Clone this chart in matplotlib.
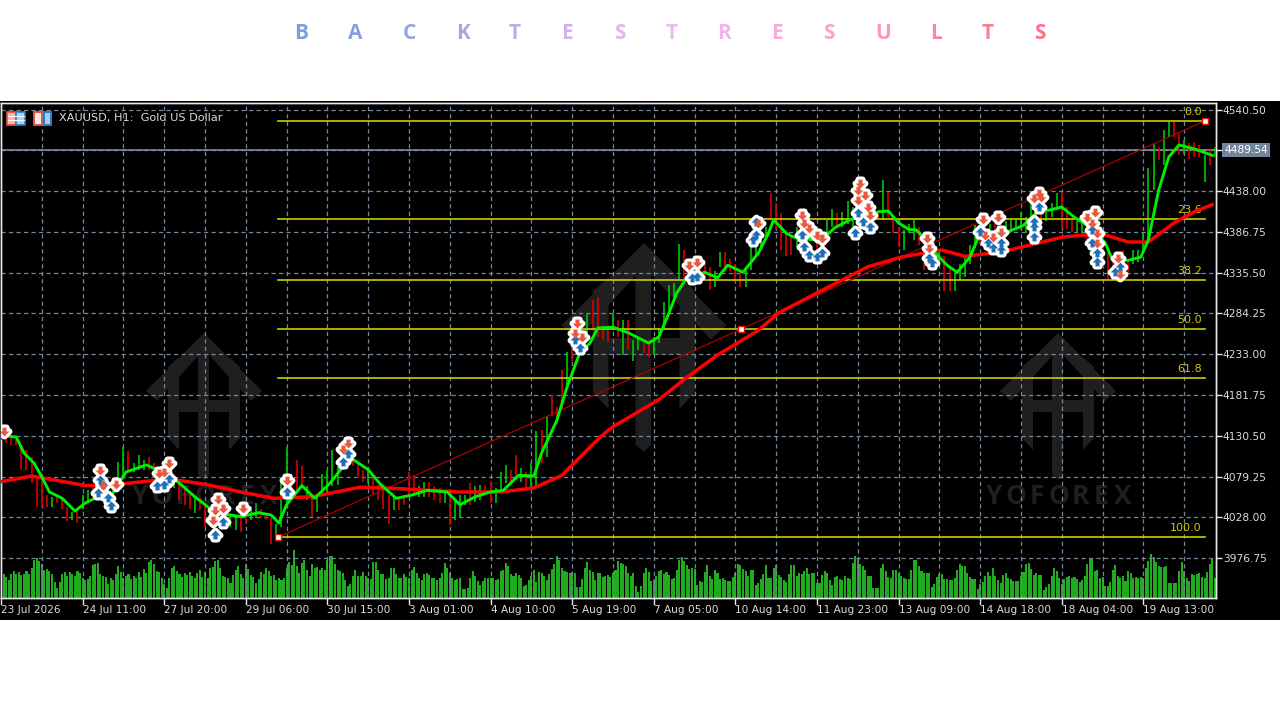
import numpy as np
from matplotlib import pyplot as plt
from matplotlib.path import Path
from matplotlib.patches import Polygon, Rectangle

title_letters = list("BACKTESTRESULTS")
title_colors = ['#7f9fdc', '#84a0dc', '#93a5df', '#a3a8e2', '#bdaee6', '#d2b2ea', '#e2b6ee', '#ebbcf0',
                '#f0b4e8', '#f8aadc', '#fca4cc', '#fd96b8', '#fe84a4', '#fe7c94', '#fe6f88']

price_ticks = [4540.50, 4489.25, 4438.00, 4386.75, 4335.50, 4284.25, 4233.00, 4181.75, 4130.50, 4079.25, 4028.00, 3976.75]
date_labels = ['23 Jul 2026', '24 Jul 11:00', '27 Jul 20:00', '29 Jul 06:00', '30 Jul 15:00', '3 Aug 01:00',
               '4 Aug 10:00', '5 Aug 19:00', '7 Aug 05:00', '10 Aug 14:00', '11 Aug 23:00', '13 Aug 09:00',
               '14 Aug 18:00', '18 Aug 04:00', '19 Aug 13:00']
last_price = 4489.54

fib_levels = ['0.0', '23.6', '38.2', '50.0', '61.8', '100.0']
fib_prices = [4526, 4402.6, 4326, 4264.5, 4203, 4003]
fib_start = 108.5
fib_end = 472

# one candle every second bar
candle_high = [4138,4134,4132,4129,4117,4113,4104,4079,4075,4056,4054,4056,4054,4041,4035,4039,4056,4062,4069,4062,
               4071,4071,4079,4098,4117,4111,4096,4106,4100,4104,4096,4088,4092,4088,4079,4075,4065,4058,4054,4052,
               4046,4041,4033,4033,4033,4031,4031,4031,4031,4041,4046,4039,4033,4029,4020,4079,4117,4071,4100,4092,
               4067,4056,4054,4083,4088,4113,4092,4113,4117,4109,4096,4088,4088,4083,4069,4067,4056,4054,4054,
               4056,4085,4081,4067,4073,4073,4067,4065,4062,4062,4050,4056,4056,4071,4067,4069,4067,4073,4065,4085,
               4094,4088,4106,4090,4085,4096,4136,4138,4155,
               4182,4167,4213,4236,4255,4263,4263,4284,4301,4305,4270,4266,4284,4276,4276,4276,4251,4255,4251,4251,
               4255,4266,4299,4320,4322,4372,4364,4351,4347,4347,4347,4343,4337,4362,4362,4353,4347,4339,4343,4368,
               4377,4385,4393,
               4435,4423,4410,4385,4381,4393,4381,4372,4368,4381,4385,4402,4416,4410,4412,4425,4418,4423,4418,4418,
               4414,4412,4452,4437,4406,4393,4389,4397,4402,4393,4385,4360,4364,4364,4356,4343,4335,
               4347,4356,4370,4395,4393,4397,4397,4406,4410,4400,4402,4402,4412,4406,4431,4437,4423,4416,4423,4435,
               4437,4418,4402,4400,4402,4406,4397,4385,4376,4360,4356,4343,4364,4351,4364,4364,4385,4467,4498,4494,
               4515,4525,4525,4511,4502,4498,4500,4496,4483,4490,4494]
candle_low = [4125,4121,4119,4119,4088,4088,4071,4041,4041,4041,4041,4046,4039,4023,4025,4021,4039,4046,4050,4050,
              4050,4054,4056,4079,4079,4088,4085,4088,4088,4088,4077,4071,4065,4073,4065,4050,4044,4039,4033,4037,
              4016,4020,4016,4020,4020,4016,4012,4010,4020,4025,4027,4029,4025,3995,4006,4016,4041,4050,4062,4065,
              4050,4029,4035,4058,4060,4067,4069,4088,4096,4092,4077,4073,4071,4056,4050,4039,4020,4037,4037,
              4044,4054,4056,4054,4054,4054,4050,4046,4046,4018,4025,4029,4044,4044,4048,4050,4056,4046,4046,4060,
              4071,4071,4075,4073,4065,4065,4067,4096,4104,
              4155,4146,4163,4192,4224,4234,4238,4259,4263,4255,4251,4249,4263,4255,4232,4238,4224,4238,4234,4230,
              4232,4247,4263,4289,4305,4326,4326,4328,4335,4328,4328,4314,4318,4343,4343,4337,4324,4318,4318,4339,
              4356,4368,4377,
              4402,4389,4364,4356,4358,4368,4364,4356,4351,4353,4356,4381,4393,4395,4393,4397,4393,4393,4402,4402,
              4404,4402,4402,4406,4385,4368,4364,4385,4376,4370,4339,4343,4351,4351,4312,4312,4312,
              4326,4330,4347,4366,4372,4372,4368,4368,4376,4387,4387,4389,4389,4385,4385,4400,4400,4400,4406,4414,
              4391,4391,4387,4387,4385,4376,4364,4351,4343,4328,4326,4324,4339,4335,4347,4349,4360,4372,4439,4477,
              4471,4506,4506,4483,4485,4478,4481,4481,4450,4471,4481]
candle_dir = ("rrrrrrrrrr" "grrrgrggrg" "rgrggrgggr" "rgrrgrrrgr" "rrgrrggrrg" "grrrgggrrr" "grgggggrgr" "rrgrrrrgr"
              "rrrggrrrgrgggrggrrgggrrgrggrg"
              "rrrgrrggrrrrgrgrggrrggggggrrgrrrggrrrrggggg"
              "rrrrrggrgrgggrgggrgrgrgrrrgggrrgrgrrg"
              "ggggrrgrrggggggrrgggrrrggrrrrrrgrrgggggrggrrgrrrgrg")

fast_bar = [0,3,6,9,13,16,19,24,29,33,38,43,49,57,61,66,70,76,84,94,101,106,109,112,118,123,129,134,138,144,149,155,161,
            167,175,180,186,192,197,203,209,212,218,222,227,231,234,240,246,254,258,262,265,269,276,281,285,291,297,301,
            303,308,311,318,323,327,333,344,348,352,356,359,362,367,371,375,380,384,395,401,407,411,416,421,426,433,436,
            442,447,450,454,458,462,468,475]
fast_ma = [4133,4130,4129,4109,4096,4079,4060,4052,4036,4046,4054,4054,4085,4094,4088,4081,4071,4054,4034,4029,4034,4031,
           4021,4044,4068,4052,4071,4091,4101,4088,4069,4052,4056,4062,4060,4044,4054,4060,4062,4081,4080,4109,4150,4192,
           4235,4247,4266,4267,4260,4247,4255,4285,4310,4329,4336,4329,4345,4336,4360,4385,4402,4385,4380,4377,4380,4392,
           4402,4412,4413,4398,4390,4389,4379,4358,4345,4336,4355,4385,4387,4395,4414,4414,4418,4405,4395,4373,4351,4351,
           4355,4377,4439,4481,4496,4491,4483]
slow_bar = [0,12,21,33,44,59,69,81,94,107,122,141,157,179,196,209,220,235,240,258,269,281,297,305,320,340,353,369,378,
            393,416,425,433,442,450,460,468,475]
slow_ma = [4073,4080,4075,4068,4069,4074,4075,4069,4060,4052,4054,4066,4064,4060,4060,4065,4081,4129,4142,4176,4204,4232,
           4263,4285,4310,4343,4355,4364,4356,4362,4380,4383,4383,4374,4374,4398,4412,4421]

volume = [17,24,21,18,24,27,24,26,23,24,27,24,30,38,40,37,34,28,29,27,24,16,10,16,24,26,22,26,24,22,27,25,
          20,18,19,22,33,34,35,24,22,21,14,20,18,24,32,26,20,22,24,19,22,20,26,21,29,25,36,38,34,27,26,20,
          14,10,20,30,32,27,24,21,25,23,26,22,20,25,28,21,26,20,30,31,37,38,30,22,21,20,15,23,28,32,24,20,
          34,29,23,21,15,19,26,24,30,27,22,23,18,20,18,20,30,36,33,48,32,25,35,38,28,22,34,30,31,28,30,28,
          38,42,42,34,28,27,25,18,12,14,22,28,22,22,26,22,20,19,36,36,28,24,24,19,20,30,30,24,20,20,24,21,
          20,28,31,25,20,18,24,25,23,20,20,18,20,25,35,30,25,20,18,19,20,9,9,10,20,27,22,17,13,17,20,20,
          20,20,18,19,27,28,35,32,24,22,25,23,20,12,13,18,22,28,16,26,25,22,18,24,29,34,42,38,30,27,26,25,
          26,25,11,11,19,30,36,28,26,18,25,25,21,22,23,21,25,28,37,35,34,32,25,22,25,12,6,12,25,30,26,17,
          18,22,27,28,24,26,23,19,20,28,38,41,37,33,29,30,29,13,17,16,26,33,22,19,28,25,19,20,18,17,17,21,
          25,34,33,29,27,22,28,28,13,15,19,24,33,20,20,30,33,23,21,18,16,24,33,33,22,25,24,27,30,24,25,25,
          15,15,23,27,25,18,13,21,22,19,18,22,20,19,35,42,39,34,32,28,22,22,10,10,10,30,34,27,21,20,28,28,
          25,22,20,19,19,28,38,38,32,27,25,25,25,11,14,21,24,24,19,19,18,18,20,28,34,32,32,25,21,19,19,9,
          14,16,22,26,22,30,22,18,15,23,25,20,19,17,17,17,22,26,34,35,29,23,25,23,23,8,11,14,22,30,27,20,
          14,19,21,22,20,21,19,16,18,22,34,39,39,27,28,20,21,12,12,16,28,33,22,20,22,17,27,25,20,21,20,21,
          20,30,37,44,41,36,32,31,31,32,15,15,15,15,27,36,27,20,17,24,23,24,25,21,20,26,34,39,20]

sell_bar = [1,39,40,45,66,62,64,85,87,84,83,95,112,136,134,226,228,225,273,270,297,314,317,322,320,315,337,336,339,340,
            341,336,363,364,385,391,386,389,392,407,405,408,429,428,430,430,426,438,439]
sell_price = [4137,4088,4069,4070,4096,4084,4085,4051,4040,4037,4025,4040,4075,4122,4114,4272,4255,4260,4349,4345,4398,
              4408,4392,4379,4383,4398,4448,4439,4433,4418,4408,4427,4379,4367,4403,4405,4383,4380,4387,4436,4429,4431,
              4412,4398,4385,4373,4405,4354,4334]
buy_bar = [38,40,42,43,39,66,64,61,87,84,112,136,134,227,225,273,271,296,295,296,315,317,322,320,314,335,341,336,338,
           365,364,384,387,389,392,392,407,405,405,405,428,428,430,430,439,437]
buy_price = [4059,4069,4052,4042,4075,4076,4069,4067,4022,4006,4060,4108,4098,4241,4251,4330,4329,4383,4377,4399,4368,
             4358,4360,4355,4383,4385,4393,4410,4399,4348,4354,4387,4373,4366,4364,4373,4418,4393,4380,4399,4389,4373,
             4360,4349,4343,4336]

GRID = '#76869a'
TEXT = '#dcdcdc'
RED = '#d80000'
GREEN = '#00c800'


def arrow(direction):
    pts = np.array([[-0.42, 0], [-1, 0], [0, 1], [1, 0], [0.42, 0], [0.42, -0.8], [-0.42, -0.8], [-0.42, 0]])
    pts = pts * [1, direction]
    return Path(pts, closed=True)


def logo(ax, cx, top, scale, word=False):
    # faint house watermark, in pixels of the background axes
    c = '#1f1f1f'
    def sx(x): return cx + x * scale
    def sy(y): return top + y * scale
    ax.add_patch(Polygon([(sx(a), sy(b)) for a, b in [(0, 0), (58, 58), (47, 68), (5, 22), (-5, 22), (-47, 68), (-58, 58)]], color=c, lw=0))
    ax.add_patch(Polygon([(sx(a), sy(b)) for a, b in [(-36, 34), (-25, 24), (-25, 117), (-36, 105)]], color=c, lw=0))
    ax.add_patch(Polygon([(sx(a), sy(b)) for a, b in [(36, 34), (25, 24), (25, 117), (36, 105)]], color=c, lw=0))
    ax.add_patch(Polygon([(sx(a), sy(b)) for a, b in [(-6, 10), (5, 10), (5, 142), (0, 147), (-6, 142)]], color=c, lw=0))
    ax.add_patch(Rectangle((sx(-30), sy(67)), 60 * scale, 12 * scale, color=c, lw=0))
    if word:
        for n, letter in enumerate('YOFOREX'):
            ax.text(cx - 64 + n * 21.5, top + 164, letter, color=c, fontsize=19, fontweight='bold', family='Open Sans',
                    ha='center', va='center')


fig = plt.figure(figsize=(12.8, 7.2), dpi=100, facecolor='white')

bg = fig.add_axes([0, 0, 1, 1], zorder=0)
bg.set_xlim(0, 1280)
bg.set_ylim(720, 0)
bg.axis('off')
bg.add_patch(Rectangle((0, 101), 1280, 519, color='black', lw=0))
logo(bg, 204, 333, 1, True)
logo(bg, 1058, 333, 1, True)
logo(bg, 644, 243, 1.42)

# title letters are spaced out by hand across the top
title_x = [301, 355, 409, 463, 515, 567, 620, 672, 724, 777, 829, 883, 936, 988, 1040]
for x, letter, col in zip(title_x, title_letters, title_colors):
    bg.text(x, 33.5, letter, color=col, fontsize=15, fontweight='bold', family='Open Sans', ha='center', va='center')

# the two small icons next to the symbol name
bg.add_patch(Rectangle((7, 112), 9, 12.5, fc='#ffb4a8', ec='#e8503c', lw=1.2))
bg.add_patch(Rectangle((16, 112), 9, 12.5, fc='#a8d0f4', ec='#2c7cc8', lw=1.2))
bg.plot([8, 24], [116, 116], color='white', lw=0.8)
bg.plot([8, 24], [120, 120], color='white', lw=0.8)
bg.add_patch(Rectangle((34, 112), 8, 12.5, fc='#ffe8e4', ec='#e8503c', lw=1.4))
bg.add_patch(Rectangle((44, 112), 7, 12.5, fc='#a0d0f4', ec='#2c7cc8', lw=1.4))
bg.text(59, 118.5, 'XAUUSD, H1:  Gold US Dollar', color=TEXT, fontsize=8.1, family='DejaVu Sans', va='center')

ax = fig.add_axes([1 / 1280, (720 - 598) / 720, 1215 / 1280, 495 / 720], zorder=1)
ax.set_xlim(0, 476.5)
ax.set_ylim(4678.1 - 1.2564 * 598, 4678.1 - 1.2564 * 103)

vol_ax = ax.twinx()
vol_ax.set_ylim(0, 495)
vol_ax.set_yticks([])
vol_ax.set_zorder(ax.get_zorder() - 1)
vol_ax.patch.set_visible(False)
ax.patch.set_visible(False)

for spine in list(ax.spines.values()) + list(vol_ax.spines.values()):
    spine.set_color('#e8e8e8')
    spine.set_linewidth(1)

ax.set_xticks(np.arange(16, 476, 16), minor=False)
ax.grid(True, color=GRID, lw=0.9, dashes=(3.4, 2.6))
ax.set_axisbelow(True)
ax.set_xticklabels([])
ax.tick_params(axis='x', length=0)
ax.yaxis.tick_right()
ax.set_yticks(price_ticks)
ax.set_yticklabels([f'{p:.2f}' if p != 4489.25 else '' for p in price_ticks], fontsize=7.7, color=TEXT, family='DejaVu Sans')
ax.tick_params(axis='y', length=4, width=1, color='#e8e8e8', pad=1)

# date labels sit right of their tick, every 32 bars
for i, label in enumerate(date_labels):
    ax.plot([i * 32, i * 32], [0, -0.012], color='#e8e8e8', lw=1, clip_on=False, transform=ax.get_xaxis_transform())
    ax.annotate(label, (i * 32, 0), xycoords=ax.get_xaxis_transform(), xytext=(0, -7), textcoords='offset pixels',
                va='top', ha='left', fontsize=7.6, color=TEXT, family='DejaVu Sans', annotation_clip=False)

vol_ax.bar(np.arange(len(volume)), volume, width=0.8, color='#22aa22', lw=0)

for b, (hi, lo, d) in enumerate(zip(candle_high, candle_low, candle_dir)):
    ax.plot([b * 2, b * 2], [lo, hi], color=GREEN if d == 'g' else RED, lw=1.2, solid_capstyle='butt', zorder=3)

ax.axhline(last_price, color='#8497ab', lw=1.1, zorder=2)

for lvl, p in zip(fib_levels, fib_prices):
    ax.plot([fib_start, fib_end], [p, p], color='#cccc00', lw=1.2, zorder=4)
    ax.annotate(lvl, (fib_end, p), xytext=(-2, 3), textcoords='offset points', ha='right', va='bottom',
                fontsize=8, color='#d8c800', family='DejaVu Sans', zorder=4)

ax.plot([fib_start, fib_end], [fib_prices[-1], fib_prices[0]], color='#a80000', lw=0.9, zorder=4)
mid = (fib_prices[0] + fib_prices[-1]) / 2
ax.plot([fib_start, (fib_start + fib_end) / 2, fib_end], [fib_prices[-1], mid, fib_prices[0]], ls='none', marker='s',
        ms=4, mfc='white', mec='#e01010', mew=1, zorder=8)

ax.plot(slow_bar, slow_ma, color='#ff0000', lw=2.5, zorder=5, solid_joinstyle='round')
ax.plot(fast_bar, fast_ma, color='#00f000', lw=2.1, zorder=6, solid_joinstyle='round')

# white halo first so overlapping arrows merge into a blob like the terminal draws them
for bars, prices, mk in [(buy_bar, buy_price, arrow(1)), (sell_bar, sell_price, arrow(-1))]:
    ax.plot(bars, prices, ls='none', marker=mk, ms=7, mfc='white', mec='white', mew=4.5, zorder=7)
for bars, prices, mk, col in [(buy_bar, buy_price, arrow(1), '#1f6fb8'), (sell_bar, sell_price, arrow(-1), '#e8583c')]:
    ax.plot(bars, prices, ls='none', marker=mk, ms=7, mfc=col, mec=col, mew=0, zorder=7.5)

# current price tag over the axis
bg.add_patch(Rectangle((1222, 143), 48, 14, color='#71859b', lw=0, zorder=5))
bg.text(1246, 150.3, f'{last_price:.2f}', color='white', fontsize=7.7, family='DejaVu Sans', ha='center', va='center', zorder=6)

fig.savefig('out.png', dpi=100, facecolor='white')
